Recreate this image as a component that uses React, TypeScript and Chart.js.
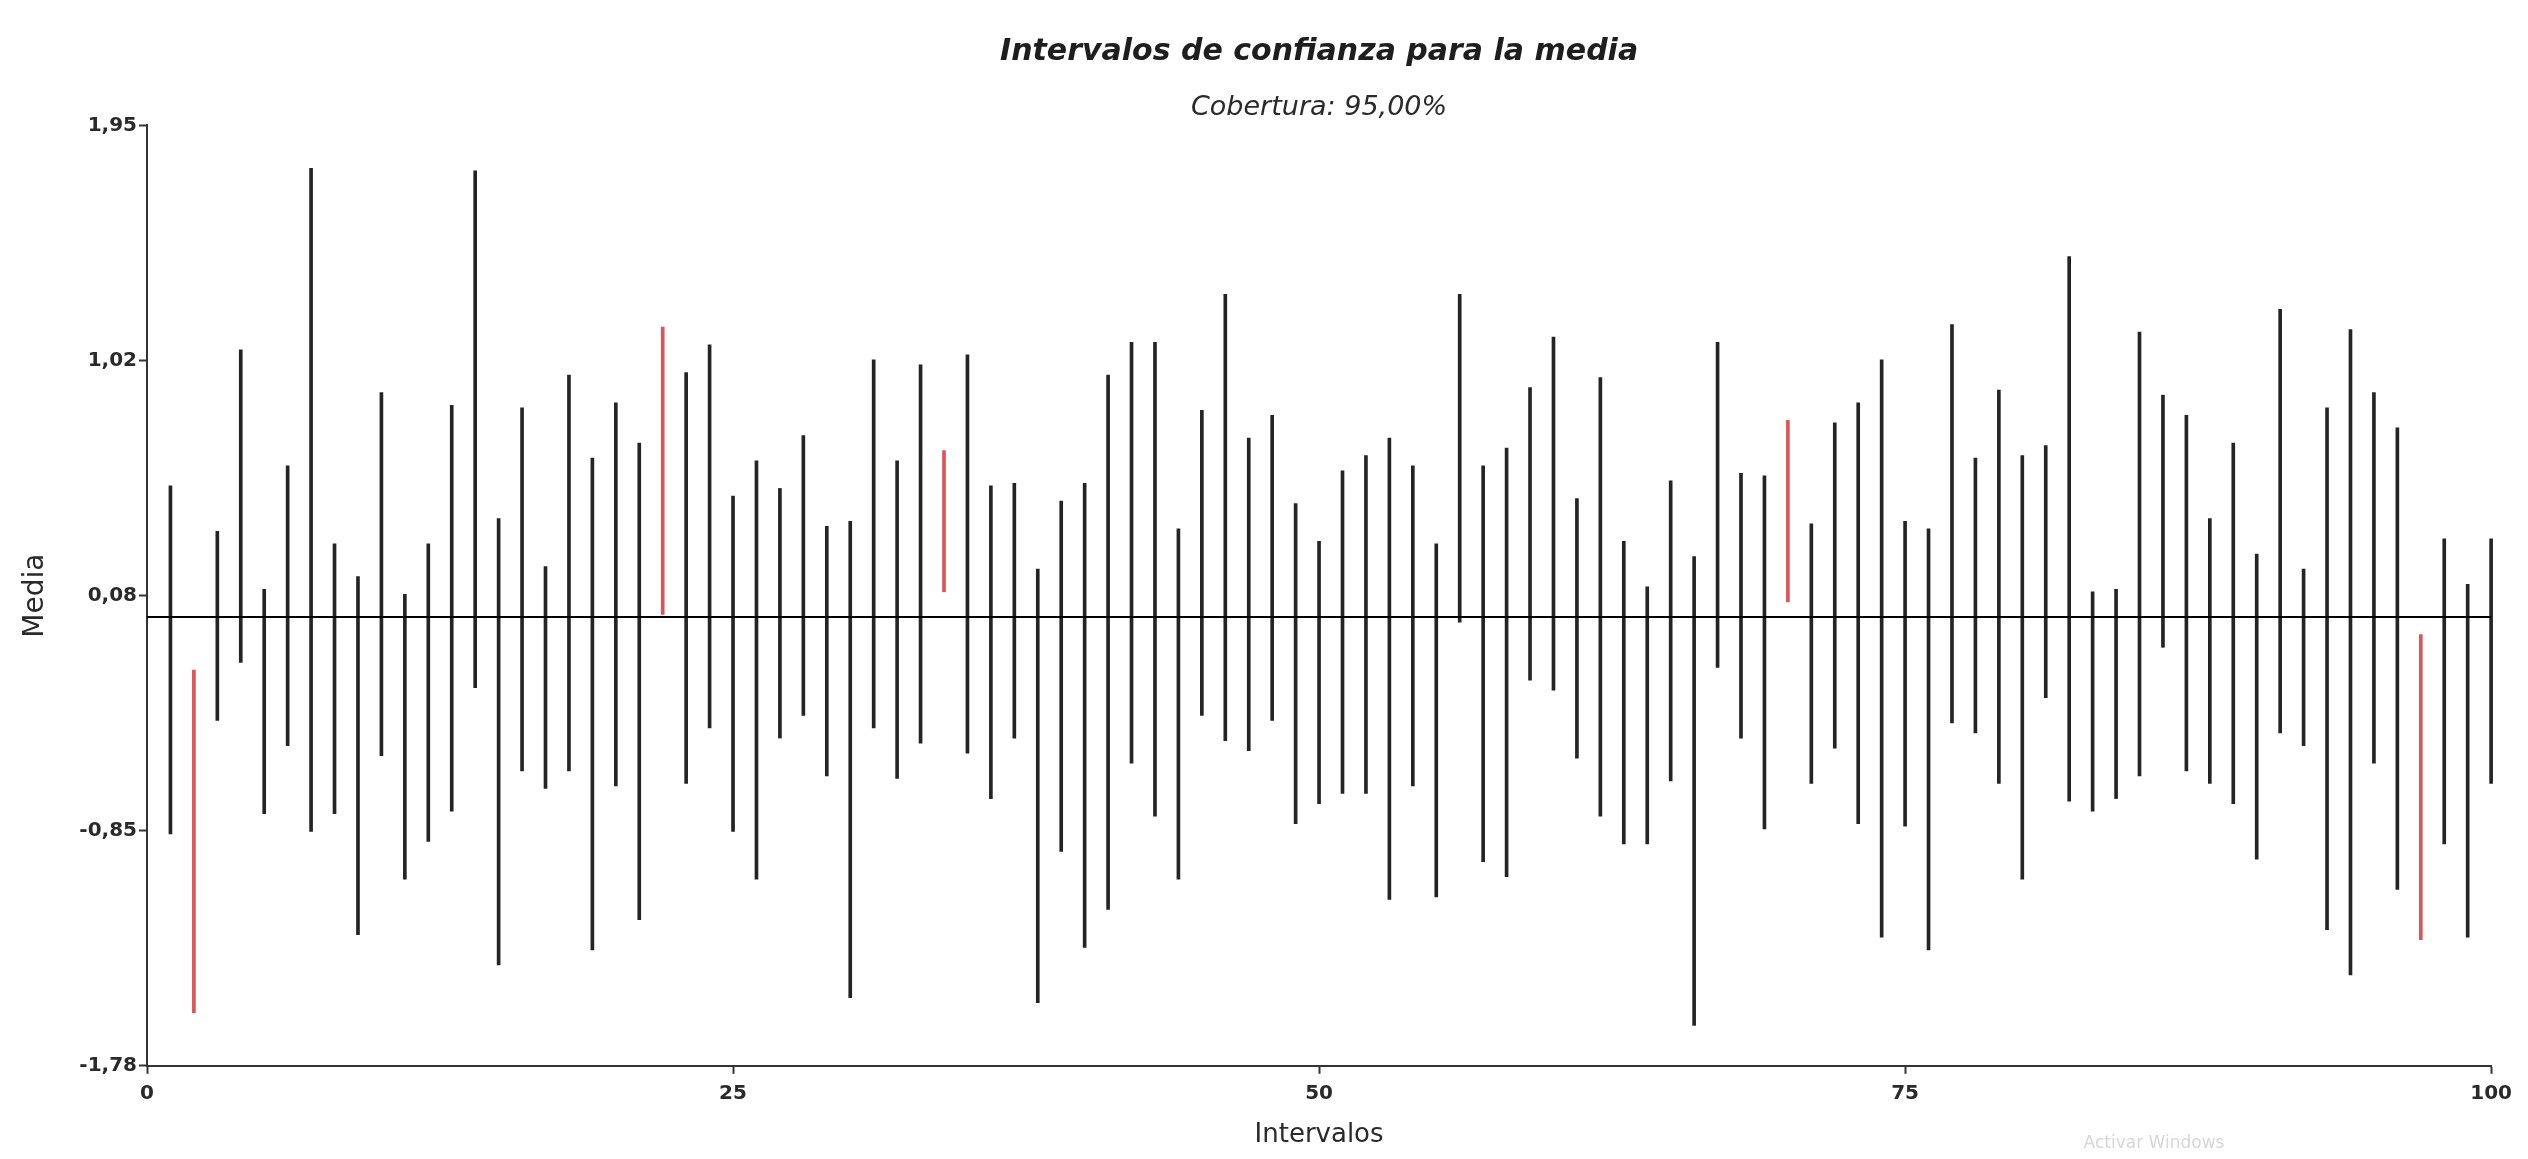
import React, { useEffect, useRef } from "react";
import { Chart, registerables } from "chart.js";

Chart.register(...registerables);

// ---- data ----
const TITLE = "Intervalos de confianza para la media";
const SUBTITLE = "Cobertura: 95,00%";
const X_TITLE = "Intervalos";
const Y_TITLE = "Media";
const WATERMARK = "Activar Windows";

const MEAN = 0;
const Y_MIN = -1.78;
const Y_MAX = 1.95;
const Y_TICK_LABELS = ["-1,78", "-0,85", "0,08", "1,02", "1,95"];
const X_MIN = 0;
const X_MAX = 100;
const X_TICKS = [0, 25, 50, 75, 100];

const UPPER = [
  0.52, -0.21, 0.34, 1.06, 0.11, 0.6, 1.78, 0.29, 0.16, 0.89,
  0.09, 0.29, 0.84, 1.77, 0.39, 0.83, 0.2, 0.96, 0.63, 0.85,
  0.69, 1.15, 0.97, 1.08, 0.48, 0.62, 0.51, 0.72, 0.36, 0.38,
  1.02, 0.62, 1.0, 0.66, 1.04, 0.52, 0.53, 0.19, 0.46, 0.53,
  0.96, 1.09, 1.09, 0.35, 0.82, 1.28, 0.71, 0.8, 0.45, 0.3,
  0.58, 0.64, 0.71, 0.6, 0.29, 1.28, 0.6, 0.67, 0.91, 1.11,
  0.47, 0.95, 0.3, 0.12, 0.54, 0.24, 1.09, 0.57, 0.56, 0.78,
  0.37, 0.77, 0.85, 1.02, 0.38, 0.35, 1.16, 0.63, 0.9, 0.64,
  0.68, 1.43, 0.1, 0.11, 1.13, 0.88, 0.8, 0.39, 0.69, 0.25,
  1.22, 0.19, 0.83, 1.14, 0.89, 0.75, -0.07, 0.31, 0.13, 0.31,
];

const LOWER = [
  -0.86, -1.57, -0.41, -0.18, -0.78, -0.51, -0.85, -0.78, -1.26, -0.55,
  -1.04, -0.89, -0.77, -0.28, -1.38, -0.61, -0.68, -0.61, -1.32, -0.67,
  -1.2, 0.01, -0.66, -0.44, -0.85, -1.04, -0.48, -0.39, -0.63, -1.51,
  -0.44, -0.64, -0.5, 0.1, -0.54, -0.72, -0.48, -1.53, -0.93, -1.31,
  -1.16, -0.58, -0.79, -1.04, -0.39, -0.49, -0.53, -0.41, -0.82, -0.74,
  -0.7, -0.7, -1.12, -0.67, -1.11, -0.02, -0.97, -1.03, -0.25, -0.29,
  -0.56, -0.79, -0.9, -0.9, -0.65, -1.62, -0.2, -0.48, -0.84, 0.06,
  -0.66, -0.52, -0.82, -1.27, -0.83, -1.32, -0.42, -0.46, -0.66, -1.04,
  -0.32, -0.73, -0.77, -0.72, -0.63, -0.12, -0.61, -0.66, -0.74, -0.96,
  -0.46, -0.51, -1.24, -1.42, -0.58, -1.08, -1.28, -0.9, -1.27, -0.66,
];

const INTERVAL_IDS = UPPER.map((_, i) => i + 1);

const COLOR_IN = "#242424";
const COLOR_OUT = "rgb(222, 84, 84)";
const AXIS_COLOR = "#333333";
const FONT = "'DejaVu Sans', 'Liberation Sans', Arial, sans-serif";

const watermarkPlugin = {
  id: "watermark",
  afterDraw(chart: any) {
    const ctx = chart.ctx;
    ctx.save();
    ctx.font = `17px ${FONT}`;
    ctx.fillStyle = "#d6d6d6";
    ctx.textAlign = "center";
    ctx.textBaseline = "middle";
    ctx.fillText(WATERMARK, 2146, 1136);
    ctx.restore();
  },
};

export default function App() {
  const canvasRef = useRef<HTMLCanvasElement | null>(null);

  useEffect(() => {
    if (!canvasRef.current) return;
    Chart.defaults.font.family = FONT;

    const barData = INTERVAL_IDS.map((id, i) => ({ x: id, y: [LOWER[i], UPPER[i]] }));
    const barColors = INTERVAL_IDS.map((_, i) =>
      LOWER[i] > MEAN || UPPER[i] < MEAN ? COLOR_OUT : COLOR_IN
    );
    const yStep = (Y_MAX - Y_MIN) / (Y_TICK_LABELS.length - 1);

    const chart = new Chart(canvasRef.current, {
      type: "bar",
      data: {
        datasets: [
          {
            type: "line",
            data: [
              { x: X_MIN, y: MEAN },
              { x: X_MAX, y: MEAN },
            ],
            borderColor: "#000000",
            borderWidth: 2,
            pointRadius: 0,
            order: 0,
          } as any,
          {
            type: "bar",
            data: barData as any,
            backgroundColor: barColors,
            borderWidth: 0,
            barThickness: 3,
            clip: false,
            order: 1,
          } as any,
        ],
      },
      plugins: [watermarkPlugin],
      options: {
        animation: false,
        responsive: true,
        maintainAspectRatio: false,
        layout: { padding: { left: 0, right: 24, top: 0, bottom: 0 } },
        plugins: {
          legend: { display: false },
          tooltip: { enabled: false },
          title: {
            display: true,
            text: TITLE,
            fullSize: false,
            color: "#1e1e1e",
            font: { size: 30, weight: "bold", style: "italic", family: FONT },
            padding: { top: 26, bottom: 10 },
          },
          subtitle: {
            display: true,
            text: SUBTITLE,
            fullSize: false,
            color: "#2a2a2a",
            font: { size: 27, style: "italic", family: FONT },
            padding: { top: 12, bottom: 1 },
          },
        },
        scales: {
          x: {
            type: "linear",
            min: X_MIN,
            max: X_MAX,
            offset: false,
            afterBuildTicks: (scale: any) => {
              scale.ticks = X_TICKS.map((v) => ({ value: v }));
            },
            ticks: {
              autoSkip: false,
              color: "#2a2a2a",
              font: { size: 20, weight: "bold", family: FONT },
              padding: 8,
              maxRotation: 0,
            },
            grid: {
              offset: false,
              drawOnChartArea: false,
              drawTicks: true,
              tickLength: 8,
              tickWidth: 2,
              tickColor: AXIS_COLOR,
            },
            border: { display: true, color: AXIS_COLOR, width: 2 },
            title: {
              display: true,
              text: X_TITLE,
              color: "#2a2a2a",
              font: { size: 26, family: FONT },
              padding: { top: 6, bottom: 0 },
            },
          },
          y: {
            type: "linear",
            min: Y_MIN,
            max: Y_MAX,
            afterBuildTicks: (scale: any) => {
              scale.ticks = Y_TICK_LABELS.map((_, k) => ({ value: Y_MIN + k * yStep }));
            },
            afterFit: (scale: any) => {
              scale.width = 139;
            },
            ticks: {
              autoSkip: false,
              color: "#2a2a2a",
              font: { size: 20, weight: "bold", family: FONT },
              padding: 2,
              callback: (_v: any, index: number) => Y_TICK_LABELS[index],
            },
            grid: {
              offset: false,
              drawOnChartArea: false,
              drawTicks: true,
              tickLength: 8,
              tickWidth: 2,
              tickColor: AXIS_COLOR,
            },
            border: { display: true, color: AXIS_COLOR, width: 2 },
            title: {
              display: true,
              text: Y_TITLE,
              color: "#2a2a2a",
              font: { size: 28, family: FONT },
              padding: { top: 11, bottom: 0 },
            },
          },
        },
      },
    });

    return () => {
      chart.destroy();
    };
  }, []);

  return (
    <div style={{ position: "relative", width: "2512px", height: "1143px", overflow: "hidden" }}>
      <canvas ref={canvasRef} style={{ display: "block" }} />
    </div>
  );
}
